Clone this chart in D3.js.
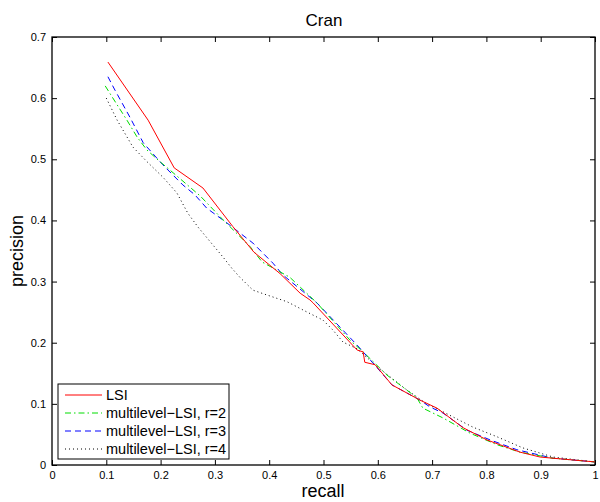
<!DOCTYPE html>
<html>
<head>
<meta charset="utf-8">
<script src="https://cdn.jsdelivr.net/npm/d3@7"></script>
<style>
  body { margin: 0; background: #fff; }
  svg { font-family: "Liberation Sans", Arial, Helvetica, sans-serif; }
</style>
</head>
<body>
<svg id="chart" width="600" height="502"></svg>
<script>
    // values
    var lsiRecall = [0.103, 0.177, 0.225, 0.278, 0.333, 0.372, 0.42, 0.457, 0.475, 0.481, 0.562, 0.573, 0.576, 0.595, 0.626, 0.678, 0.709, 0.757, 0.801, 0.862, 0.899, 1.0];
    var lsiPrec = [0.659, 0.564, 0.486, 0.453, 0.39, 0.348, 0.313, 0.281, 0.27, 0.265, 0.188, 0.185, 0.168, 0.164, 0.131, 0.106, 0.093, 0.061, 0.041, 0.021, 0.013, 0.005];

    var r2Recall = [0.098, 0.12, 0.138, 0.157, 0.175, 0.199, 0.223, 0.273, 0.315, 0.365, 0.387, 0.438, 0.488, 0.549, 0.573, 0.617, 0.672, 0.683, 0.72, 0.77, 0.82, 0.862, 0.923, 1.0];
    var r2Prec = [0.62, 0.589, 0.564, 0.536, 0.515, 0.496, 0.478, 0.44, 0.401, 0.357, 0.332, 0.307, 0.265, 0.204, 0.185, 0.147, 0.11, 0.093, 0.077, 0.052, 0.033, 0.021, 0.011, 0.005];

    var r3Recall = [0.103, 0.116, 0.144, 0.168, 0.204, 0.241, 0.263, 0.285, 0.322, 0.37, 0.407, 0.425, 0.488, 0.562, 0.591, 0.626, 0.678, 0.696, 0.72, 0.764, 0.807, 0.856, 0.923, 1.0];
    var r3Prec = [0.635, 0.613, 0.568, 0.527, 0.491, 0.458, 0.442, 0.42, 0.396, 0.363, 0.33, 0.311, 0.265, 0.196, 0.167, 0.131, 0.106, 0.095, 0.085, 0.057, 0.041, 0.025, 0.011, 0.005];

    var r4Recall = [0.1, 0.12, 0.149, 0.175, 0.204, 0.23, 0.25, 0.269, 0.315, 0.331, 0.346, 0.37, 0.396, 0.433, 0.47, 0.499, 0.517, 0.536, 0.562, 0.6, 0.65, 0.69, 0.72, 0.775, 0.82, 0.867, 0.923, 1.0];
    var r4Prec = [0.6, 0.564, 0.52, 0.496, 0.471, 0.445, 0.412, 0.389, 0.34, 0.322, 0.307, 0.286, 0.278, 0.267, 0.25, 0.237, 0.221, 0.201, 0.19, 0.16, 0.125, 0.1, 0.087, 0.062, 0.046, 0.028, 0.013, 0.005];

    var seriesNames = ['LSI', 'multilevel\u2212LSI, r=2', 'multilevel\u2212LSI, r=3', 'multilevel\u2212LSI, r=4'];
    var xTicks = [0, 0.1, 0.2, 0.3, 0.4, 0.5, 0.6, 0.7, 0.8, 0.9, 1];
    var yTicks = [0, 0.1, 0.2, 0.3, 0.4, 0.5, 0.6, 0.7];

    var styles = [
      {color: '#ff0000', dash: null},
      {color: '#00dd00', dash: '6,3,1.5,3'},
      {color: '#0000ff', dash: '6,4'},
      {color: '#000000', dash: '1,3'}
    ];

    var series = [
      {recall: lsiRecall, prec: lsiPrec},
      {recall: r2Recall, prec: r2Prec},
      {recall: r3Recall, prec: r3Prec},
      {recall: r4Recall, prec: r4Prec}
    ];

    var svg = d3.select('#chart');
    var plotLeft = 52, plotTop = 37, plotW = 543, plotH = 428;

    var x = d3.scaleLinear().domain([0, 1]).range([plotLeft, plotLeft + plotW]);
    var y = d3.scaleLinear().domain([0, 0.7]).range([plotTop + plotH, plotTop]);

    function fmt(d) { return d === 0 ? '0' : (d === 1 ? '1' : d3.format('.1f')(d)); }

    // axes, ticks inside like matlab
    svg.append('g')
      .attr('transform', 'translate(0,' + (plotTop + plotH) + ')')
      .call(d3.axisBottom(x).tickValues(xTicks).tickFormat(fmt).tickSizeInner(-5).tickSizeOuter(0).tickPadding(6))
      .call(function(g) { g.select('.domain').remove(); });
    svg.append('g')
      .attr('transform', 'translate(0,' + plotTop + ')')
      .call(d3.axisTop(x).tickValues(xTicks).tickFormat('').tickSizeInner(-5).tickSizeOuter(0))
      .call(function(g) { g.select('.domain').remove(); });
    svg.append('g')
      .attr('transform', 'translate(' + plotLeft + ',0)')
      .call(d3.axisLeft(y).tickValues(yTicks).tickFormat(fmt).tickSizeInner(-5).tickSizeOuter(0).tickPadding(6))
      .call(function(g) { g.select('.domain').remove(); });
    svg.append('g')
      .attr('transform', 'translate(' + (plotLeft + plotW) + ',0)')
      .call(d3.axisRight(y).tickValues(yTicks).tickFormat('').tickSizeInner(-5).tickSizeOuter(0))
      .call(function(g) { g.select('.domain').remove(); });

    svg.selectAll('.tick text').attr('font-size', 11).attr('fill', '#000')
      .attr('font-family', '"Liberation Sans", Arial, sans-serif');
    svg.selectAll('.tick line').attr('stroke', '#000');

    svg.append('rect')
      .attr('x', plotLeft).attr('y', plotTop)
      .attr('width', plotW).attr('height', plotH)
      .attr('fill', 'none').attr('stroke', '#000').attr('stroke-width', 1.3);

    var line = d3.line()
      .x(function(d) { return x(d[0]); })
      .y(function(d) { return y(d[1]); });

    // draw r=4 first so red ends on top
    for (var i = series.length - 1; i >= 0; i--) {
      var pts = series[i].recall.map(function(r, j) { return [r, series[i].prec[j]]; });
      svg.append('path')
        .datum(pts)
        .attr('d', line)
        .attr('fill', 'none')
        .attr('stroke', styles[i].color)
        .attr('stroke-width', 1)
        .attr('stroke-dasharray', styles[i].dash);
    }

    // title and labels
    svg.append('text').attr('x', 324).attr('y', 26).attr('text-anchor', 'middle')
      .attr('font-size', 17).text('Cran');
    svg.append('text').attr('x', 323).attr('y', 497).attr('text-anchor', 'middle')
      .attr('font-size', 18).text('recall');
    svg.append('text').attr('transform', 'translate(23,' + (plotTop + plotH / 2) + ') rotate(-90)')
      .attr('text-anchor', 'middle').attr('font-size', 18).text('precision');

    // legend
    var legend = svg.append('g');
    legend.append('rect')
      .attr('x', 58).attr('y', 384).attr('width', 171).attr('height', 75)
      .attr('fill', '#fff').attr('stroke', '#000').attr('stroke-width', 1);
    seriesNames.forEach(function(name, i) {
      var ly = 395 + i * 18;
      legend.append('line')
        .attr('x1', 65).attr('x2', 102).attr('y1', ly).attr('y2', ly)
        .attr('stroke', styles[i].color).attr('stroke-width', 1)
        .attr('stroke-dasharray', styles[i].dash);
      legend.append('text')
        .attr('x', 106).attr('y', ly + 5)
        .attr('font-size', 14.5).text(name);
    });
</script>
</body>
</html>
